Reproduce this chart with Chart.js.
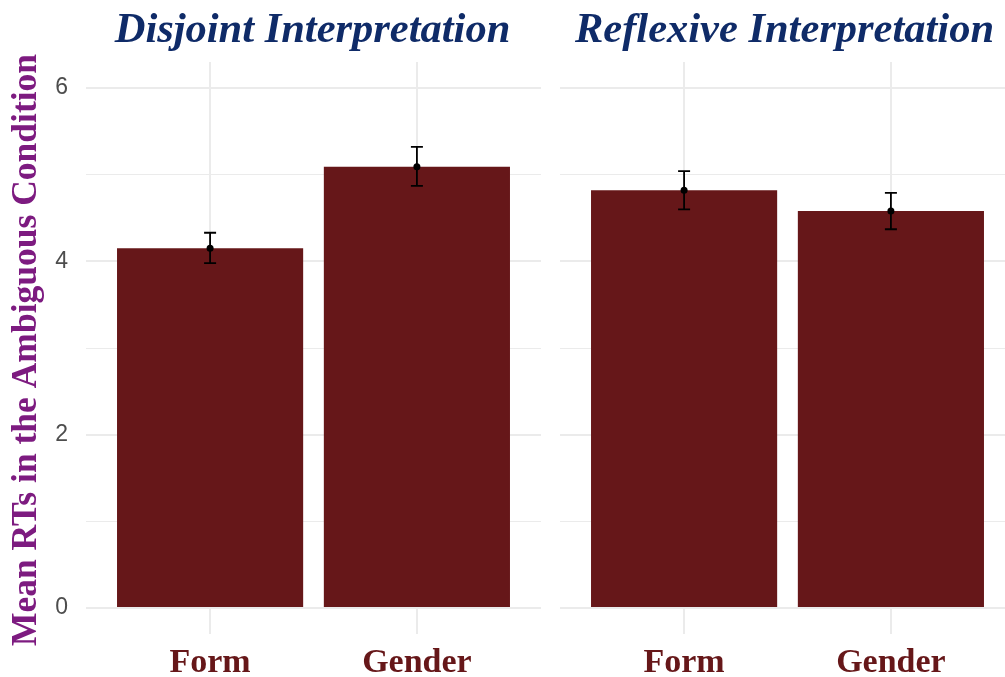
<!DOCTYPE html>
<html>
<head>
<meta charset="utf-8">
<script src="https://cdn.jsdelivr.net/npm/chart.js@4.4.1/dist/chart.umd.min.js"></script>
<style>
  html, body { margin: 0; padding: 0; background: #ffffff; }
  body { width: 1005px; height: 677px; position: relative; overflow: hidden; }
  .panel { position: absolute; top: 0; }
</style>
</head>
<body>
<div class="panel" id="p1" style="left:0px;width:548px;height:677px;"><canvas id="c1" width="548" height="677"></canvas></div>
<div class="panel" id="p2" style="left:548px;width:467px;height:677px;"><canvas id="c2" width="467" height="677"></canvas></div>
<script>
// ---- data ----
const categories = ['Form', 'Gender'];
const panelTitles = ['Disjoint Interpretation', 'Reflexive Interpretation'];
const yAxisTitle = 'Mean RTs in the Ambiguous Condition';
const yTickValues = [0, 1, 2, 3, 4, 5, 6];
const yTickLabels = ['0', '', '2', '', '4', '', '6'];

const disjointMeans = [4.15, 5.09];
const disjointLower = [3.98, 4.87];
const disjointUpper = [4.33, 5.32];

const reflexiveMeans = [4.82, 4.58];
const reflexiveLower = [4.60, 4.37];
const reflexiveUpper = [5.04, 4.79];

// ---- styles ----
const BAR_COLOR = '#661719';
const TITLE_COLOR = '#0f2b68';
const YTITLE_COLOR = '#7d1b80';
const XLABEL_COLOR = '#661719';
const GRID_COLOR = '#ebebeb';

const errorBarPlugin = {
  id: 'errorBars',
  afterDatasetsDraw(chart, args, opts) {
    const { ctx, scales } = chart;
    const xs = scales.x, ys = scales.y;
    ctx.save();
    ctx.strokeStyle = '#000000';
    ctx.lineWidth = 1.8;
    opts.lower.forEach((lo, i) => {
      const x = xs.getPixelForValue(i + 1);
      const yl = ys.getPixelForValue(lo);
      const yu = ys.getPixelForValue(opts.upper[i]);
      ctx.beginPath();
      ctx.moveTo(x, yl); ctx.lineTo(x, yu);
      ctx.moveTo(x - 6, yl); ctx.lineTo(x + 6, yl);
      ctx.moveTo(x - 6, yu); ctx.lineTo(x + 6, yu);
      ctx.stroke();
    });
    ctx.restore();
  }
};

const textPlugin = {
  id: 'facetText',
  afterDraw(chart, args, opts) {
    const { ctx, chartArea } = chart;
    ctx.save();
    ctx.fillStyle = TITLE_COLOR;
    ctx.font = 'italic bold 42.5px "Liberation Serif", "Times New Roman", serif';
    ctx.textAlign = 'center';
    ctx.textBaseline = 'alphabetic';
    ctx.fillText(opts.title, (chartArea.left + chartArea.right) / 2 + opts.dx, 42);
    if (opts.yTitle) {
      ctx.translate(36, (chartArea.top + chartArea.bottom) / 2 + 2);
      ctx.rotate(-Math.PI / 2);
      ctx.fillStyle = YTITLE_COLOR;
      ctx.font = 'bold 35.5px "Liberation Serif", "Times New Roman", serif';
      ctx.fillText(opts.yTitle, 0, 0);
    }
    ctx.restore();
  }
};

function makeChart(canvasId, means, lower, upper, title, isLeft) {
  const yWidth = isLeft ? 86 : 12;
  return new Chart(document.getElementById(canvasId), {
    type: 'bar',
    data: {
      datasets: [
        {
          type: 'line',
          data: means.map((v, i) => ({ x: i + 1, y: v })),
          showLine: false,
          pointRadius: 3.5,
          pointBackgroundColor: '#000000',
          pointBorderWidth: 0,
          order: 0
        },
        {
          type: 'bar',
          data: means.map((v, i) => ({ x: i + 1, y: v })),
          backgroundColor: BAR_COLOR,
          borderWidth: 0,
          barPercentage: 0.9,
          categoryPercentage: 1.0,
          order: 1
        }
      ]
    },
    options: {
      responsive: false,
      animation: false,
      devicePixelRatio: 1,
      layout: { autoPadding: false, padding: { top: 62, right: isLeft ? 7 : 0, left: 0, bottom: 0 } },
      plugins: {
        legend: { display: false },
        tooltip: { enabled: false },
        errorBars: { lower: lower, upper: upper },
        facetText: { title: title, yTitle: isLeft ? yAxisTitle : null, dx: isLeft ? -1 : -3 }
      },
      scales: {
        x: {
          type: 'linear',
          min: 0.4,
          max: 2.6,
          offset: false,
          border: { display: false },
          grid: { color: GRID_COLOR, lineWidth: 2, drawTicks: false, offset: false },
          afterBuildTicks: (s) => { s.ticks = categories.map((c, i) => ({ value: i + 1 })); },
          afterFit: (s) => { s.height = 43; s.paddingLeft = 0; s.paddingRight = 0; },
          ticks: {
            padding: 9,
            color: XLABEL_COLOR,
            font: { family: '"Liberation Serif", "Times New Roman", serif', size: 34, weight: 'bold' },
            callback: (v) => categories[Math.round(v) - 1] || ''
          }
        },
        y: {
          min: -0.3,
          max: 6.3,
          border: { display: false },
          grid: {
            color: GRID_COLOR,
            drawTicks: false,
            lineWidth: (ctx) => (ctx.tick && ctx.tick.value % 2 === 0 ? 2 : 1)
          },
          afterBuildTicks: (s) => { s.ticks = yTickValues.map(v => ({ value: v })); },
          afterFit: (s) => { s.width = yWidth; s.paddingTop = 0; s.paddingBottom = 0; },
          ticks: {
            display: isLeft,
            padding: 18,
            color: '#4d4d4d',
            font: { family: '"Liberation Sans", Arial, sans-serif', size: 23 },
            callback: (v) => yTickLabels[yTickValues.indexOf(v)]
          }
        }
      }
    },
    plugins: [errorBarPlugin, textPlugin]
  });
}

makeChart('c1', disjointMeans, disjointLower, disjointUpper, panelTitles[0], true);
makeChart('c2', reflexiveMeans, reflexiveLower, reflexiveUpper, panelTitles[1], false);
</script>
</body>
</html>
